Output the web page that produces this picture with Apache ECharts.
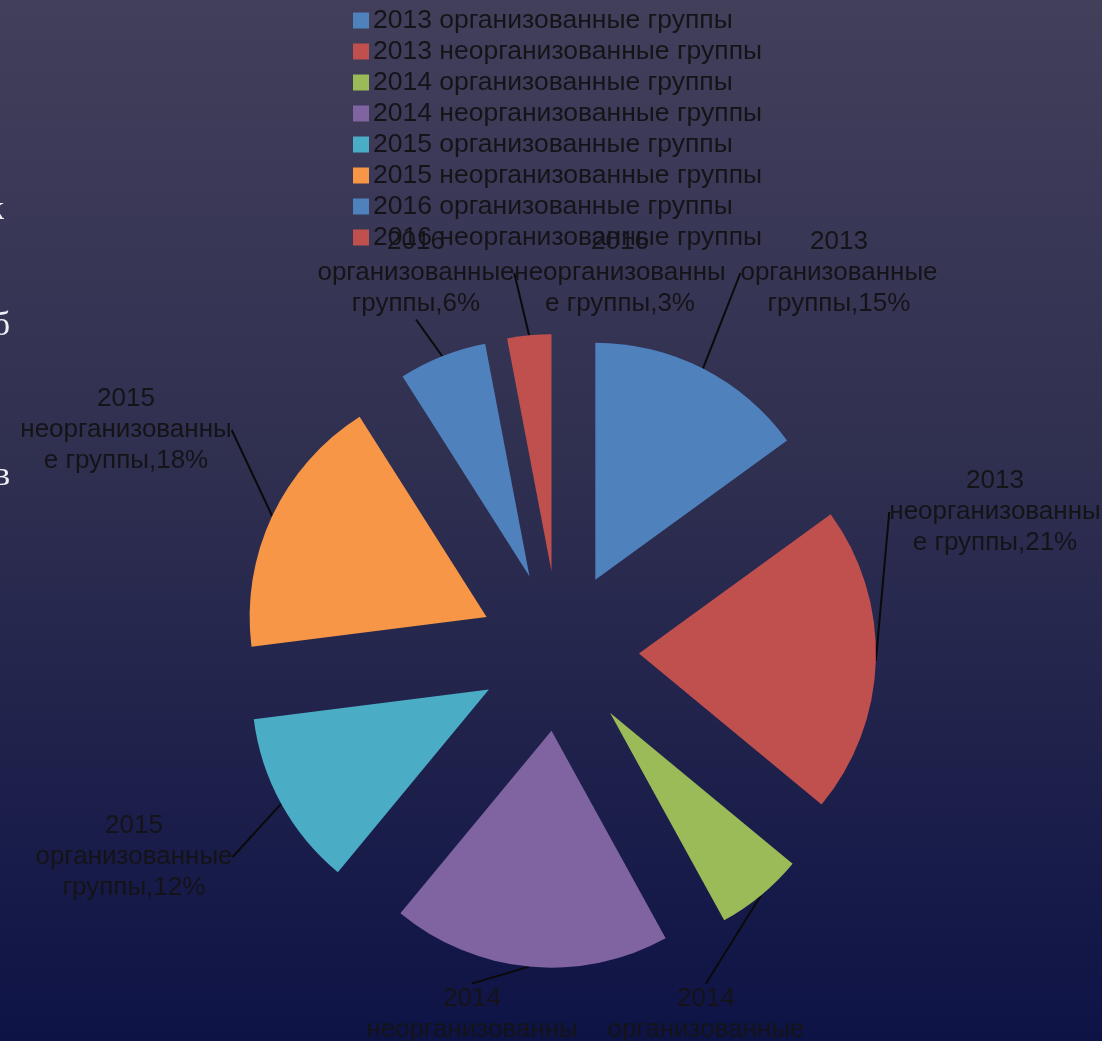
<!DOCTYPE html>
<html lang="ru">
<head>
    <meta charset="UTF-8">
    <title>Группы</title>
    <script src="https://cdn.jsdelivr.net/npm/echarts@6/dist/echarts.min.js"></script>
    <style>
        html, body { margin: 0; padding: 0; }
        #chart { width: 1102px; height: 1041px; }
    </style>
</head>
<body>
<div id="chart"></div>
<script>
    // данные (доли в %)
    var years = ['2013', '2013', '2014', '2014', '2015', '2015', '2016', '2016'];
    var groups = ['организованные группы', 'неорганизованные группы',
        'организованные группы', 'неорганизованные группы',
        'организованные группы', 'неорганизованные группы',
        'организованные группы', 'неорганизованные группы'];
    var shares = [15, 21, 6, 19, 12, 18, 6, 3];

    var colors = ['#4F81BD', '#C0504D', '#9BBB59', '#8064A2', '#4BACC6', '#F79646', '#4F81BD', '#C0504D'];

    // где стоят подписи (центр блока текста)
    var labelPos = [[839, 273], [995, 512], [706, 1030], [472, 1030],
        [134, 857], [126, 430], [416, 273], [620, 273]];

    var cx = 559, cy = 651, R = 237, explode = 80;

    var names = [];
    for (var i = 0; i < years.length; i++) {
        names.push(years[i] + ' ' + groups[i]);
    }
    var total = 0;
    for (var k = 0; k < shares.length; k++) total += shares[k];

    function wrapLabel(idx) {
        var pct = Math.round(shares[idx] / total * 100) + '%';
        if (groups[idx].indexOf('неорганизованные') === 0) {
            return years[idx] + '\nнеорганизованны\nе группы,' + pct;
        }
        return years[idx] + '\nорганизованные\nгруппы,' + pct;
    }

    var font = '"Liberation Sans", Arial, sans-serif';

    // каждый сектор - отдельная серия, сдвинутая от центра (как "вырезанный" сектор)
    var series = [];
    var cum = 0;
    for (var s = 0; s < shares.length; s++) {
        var mid = (cum + shares[s] / 2) / total * Math.PI * 2;
        cum += shares[s];
        var data = [];
        for (var n = 0; n < shares.length; n++) {
            if (n === s) {
                data.push({name: names[n], value: shares[n], itemStyle: {color: colors[n]}});
            } else {
                data.push({
                    name: names[n], value: shares[n],
                    itemStyle: {color: 'rgba(0,0,0,0)'},
                    label: {show: false}, labelLine: {show: false}
                });
            }
        }
        series.push({
            type: 'pie',
            center: [cx + explode * Math.sin(mid), cy - explode * Math.cos(mid)],
            radius: [0, R],
            startAngle: 90,
            clockwise: true,
            silent: true,
            avoidLabelOverlap: false,
            emphasis: {disabled: true},
            itemStyle: {borderWidth: 0},
            label: {
                show: true,
                position: 'outside',
                color: '#141418',
                fontFamily: font,
                fontSize: 26,
                lineHeight: 31,
                formatter: function (p) {
                    return wrapLabel(p.dataIndex);
                }
            },
            labelLine: {
                show: true,
                length: 20,
                length2: 0,
                lineStyle: {color: '#0a0a0a', width: 2}
            },
            labelLayout: function (params) {
                var pos = labelPos[params.seriesIndex];
                return {
                    x: pos[0],
                    y: pos[1],
                    align: 'center',
                    verticalAlign: 'middle',
                    hideOverlap: false
                };
            },
            data: data
        });
    }

    var legendData = [];
    for (var m = 0; m < names.length; m++) {
        legendData.push({name: names[m], itemStyle: {color: colors[m]}});
    }

    var myChart = echarts.init(document.getElementById('chart'));
    var option = {
        backgroundColor: {
            type: 'linear', x: 0, y: 0, x2: 0, y2: 1,
            colorStops: [
                {offset: 0, color: '#423f5b'},
                {offset: 0.45, color: '#2f2f50'},
                {offset: 1, color: '#0e1346'}
            ]
        },
        animation: false,
        legend: {
            orient: 'vertical',
            left: 348,
            top: 2,
            icon: 'rect',
            itemWidth: 16,
            itemHeight: 16,
            itemGap: 4,
            selectedMode: false,
            textStyle: {
                color: '#141418',
                fontFamily: font,
                fontSize: 26.5,
                lineHeight: 27,
                padding: [0, 0, 0, -1]
            },
            data: legendData
        },
        graphic: [
            {type: 'text', style: {text: 'к', x: 4, y: 210, textAlign: 'right', textVerticalAlign: 'middle', font: '34px "Liberation Serif", serif', fill: '#eeeef4'}},
            {type: 'text', style: {text: 'б', x: 10, y: 326, textAlign: 'right', textVerticalAlign: 'middle', font: '34px "Liberation Serif", serif', fill: '#eeeef4'}},
            {type: 'text', style: {text: 'в', x: 10, y: 476, textAlign: 'right', textVerticalAlign: 'middle', font: '34px "Liberation Serif", serif', fill: '#eeeef4'}}
        ],
        series: series
    };
    myChart.setOption(option);
</script>
</body>
</html>
